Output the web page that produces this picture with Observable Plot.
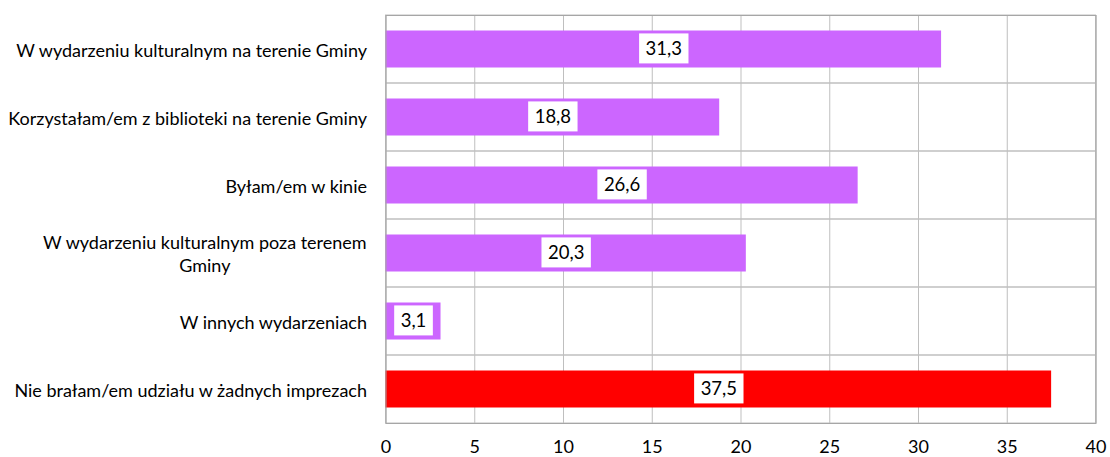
<!DOCTYPE html>
<html><head><meta charset="utf-8">
<script src="https://cdn.jsdelivr.net/npm/d3@7"></script>
<script src="https://cdn.jsdelivr.net/npm/@observablehq/plot@0.6"></script>
<style>body{margin:0;background:#fff;}</style>
</head><body><div id="chart"></div>
<script>
const categories = [
  "W wydarzeniu kulturalnym na terenie Gminy",
  "Korzystałam/em z biblioteki na terenie Gminy",
  "Byłam/em w kinie",
  "W wydarzeniu kulturalnym poza terenem\nGminy",
  "W innych wydarzeniach",
  "Nie brałam/em udziału w żadnych imprezach"
];
const values = [31.3, 18.8, 26.6, 20.3, 3.1, 37.5];
const colors = ["#CC66FF", "#CC66FF", "#CC66FF", "#CC66FF", "#CC66FF", "#FF0000"];
const xTicks = [0, 5, 10, 15, 20, 25, 30, 35, 40];

const data = categories.map((c, i) => ({category: c, value: values[i], color: colors[i]}));
const fmt = v => v.toFixed(1).replace(".", ",");

const chart = Plot.plot({
  width: 1110, height: 457,
  marginLeft: 385.5, marginRight: 14.5, marginTop: 15, marginBottom: 34,
  style: {fontFamily: "Lato, sans-serif", background: "#fff", color: "#000"},
  x: {domain: [0, 40]},
  y: {domain: categories, padding: 0},
  marks: [
    Plot.gridX(xTicks, {stroke: "#bfbfbf", strokeOpacity: 1}),
    Plot.barX(data, {x1: 0, x2: 40, y: "category", fill: "none", stroke: "#bfbfbf"}),
    Plot.barX(data, {x: "value", y: "category", fill: "color", insetTop: 15.5, insetBottom: 15.5}),
    Plot.text(data, {x: d => d.value / 2, y: "category", text: d => fmt(d.value), fontSize: 18.5, fill: "#000"}),
    Plot.frame({stroke: "#a6a6a6"}),
    Plot.axisX(xTicks, {tickSize: 0, tickPadding: 17, fontSize: 18, label: null, tickFormat: d => String(d), fill: "#000"}),
    Plot.axisY({tickSize: 0, tickPadding: 19, fontSize: 18, lineHeight: 1.28, label: null, fill: "#000"})
  ]
});
document.getElementById("chart").appendChild(chart);

// white boxes behind value labels
chart.querySelectorAll('g[aria-label="text"] text').forEach(t => {
  const b = t.getBBox();
  const r = document.createElementNS("http://www.w3.org/2000/svg", "rect");
  const px = 6.5, py = 4;
  r.setAttribute("x", b.x - px);
  r.setAttribute("y", b.y - py);
  r.setAttribute("width", b.width + 2 * px);
  r.setAttribute("height", b.height + 2 * py);
  r.setAttribute("fill", "#fff");
  const tr = t.getAttribute("transform");
  if (tr) r.setAttribute("transform", tr);
  t.parentNode.insertBefore(r, t);
});

// center lines of multi-line y tick label within its block
chart.querySelectorAll('g[aria-label="y-axis tick label"] text').forEach(t => {
  const spans = t.querySelectorAll("tspan");
  if (spans.length > 1) {
    const w = t.getBBox().width;
    t.setAttribute("text-anchor", "middle");
    spans.forEach(s => s.setAttribute("x", -w / 2));
  }
});
</script>
</body></html>
